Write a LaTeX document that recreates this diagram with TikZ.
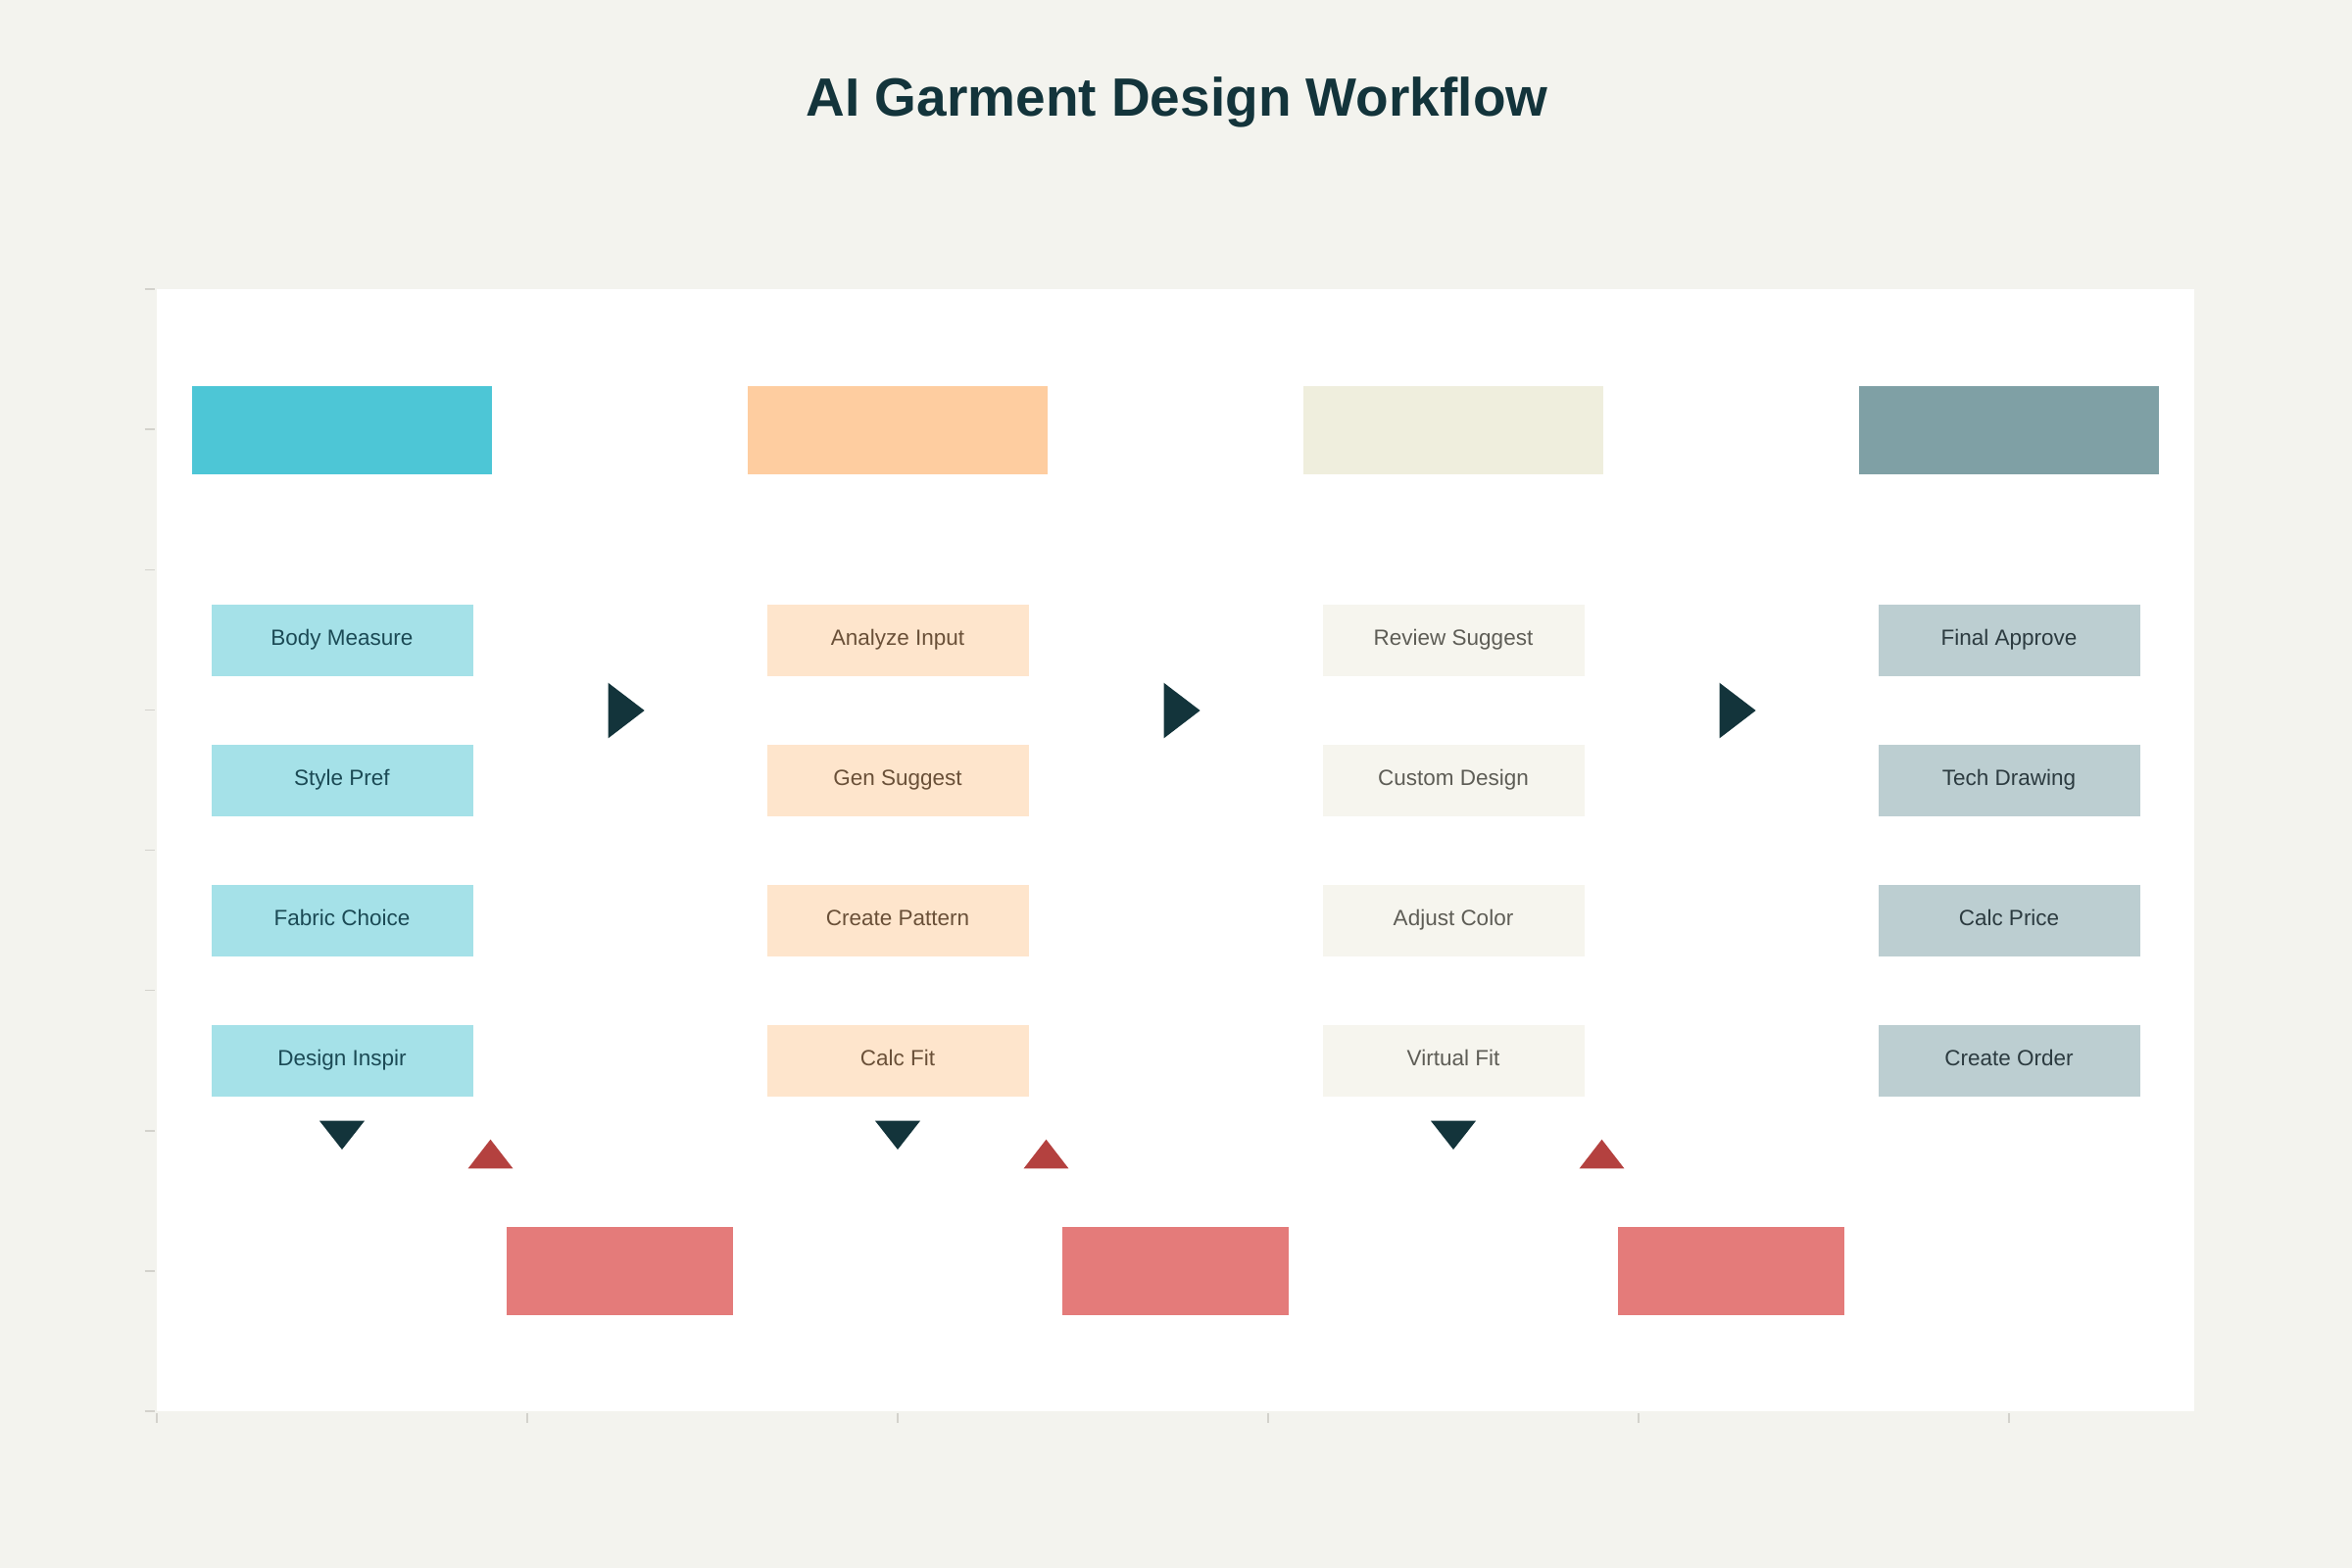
\documentclass[tikz,border=0pt]{standalone}
\usepackage{fontspec}
\setmainfont{Liberation Sans}
\definecolor{bg}{HTML}{F3F3EE}
\definecolor{dark}{HTML}{13343B}
\definecolor{tickc}{HTML}{D3D2CC}
\definecolor{hA}{HTML}{4DC6D6}
\definecolor{hB}{HTML}{FECDA0}
\definecolor{hC}{HTML}{EFEEDD}
\definecolor{hD}{HTML}{7FA0A5}
\definecolor{sA}{HTML}{A5E1E8}
\definecolor{sB}{HTML}{FEE5CC}
\definecolor{sC}{HTML}{F6F5EE}
\definecolor{sD}{HTML}{BCCED1}
\definecolor{tA}{HTML}{1B4A55}
\definecolor{tB}{HTML}{6A5038}
\definecolor{tC}{HTML}{5E5D56}
\definecolor{tD}{HTML}{2C3B40}
\definecolor{redbox}{HTML}{E47B7A}
\definecolor{redtri}{HTML}{B4413F}
\tikzset{
  header/.style={draw=none, minimum width=306pt, minimum height=90pt, inner sep=0pt},
  stepbox/.style={draw=none, minimum width=267pt, minimum height=73pt, inner sep=0pt,
    font=\fontsize{22.5}{26}\selectfont, text height=13pt, text depth=3pt},
  feedback/.style={fill=redbox, draw=none, minimum width=231pt, minimum height=90pt, inner sep=0pt},
  tickline/.style={draw=tickc, line width=1.5pt},
}
\begin{document}
\begin{tikzpicture}[x=1pt,y=-1pt]
\useasboundingbox (0,0) rectangle (2400,1600);
\fill[bg] (0,0) rectangle (2400,1600);
\fill[white] (160,295) rectangle (2239,1440);
% axis ticks
\foreach \k in {0,...,8} \draw[tickline] (147.5,{295+143.125*\k}) -- (157.5,{295+143.125*\k});
\foreach \k in {0,...,5} \draw[tickline] ({160+378*\k},1442) -- ({160+378*\k},1452);
% title
\node[font=\bfseries\fontsize{55}{60}\selectfont, text=dark, anchor=base, inner sep=0pt] (title) at (1201,118) {AI Garment Design Workflow};
% headers
\foreach \c/\col in {0/hA,1/hB,2/hC,3/hD}
  \node[header, fill=\col] (h\c) at ({349+567*\c},439) {};
% step boxes
\foreach \c/\fc/\tc/\names in {
  0/sA/tA/{Body Measure,Style Pref,Fabric Choice,Design Inspir},
  1/sB/tB/{Analyze Input,Gen Suggest,Create Pattern,Calc Fit},
  2/sC/tC/{Review Suggest,Custom Design,Adjust Color,Virtual Fit},
  3/sD/tD/{Final Approve,Tech Drawing,Calc Price,Create Order}}{
  \foreach \t [count=\j from 0] in \names
    \node[stepbox, fill=\fc, text=\tc] (s\c-\j) at ({349+567*\c},{653+143.125*\j}) {\t};
}
% feedback boxes
\foreach \c in {0,1,2}
  \node[feedback] (f\c) at ({632.6+567*\c},1297) {};
% right arrows
\foreach \c in {0,1,2}
  \fill[dark] ({620.5+567*\c},696.7) -- ({657.6+567*\c},725) -- ({620.5+567*\c},753.4) -- cycle;
% down markers
\foreach \c in {0,1,2}
  \fill[dark] ({326+567*\c},1143.7) -- ({372+567*\c},1143.7) -- ({349+567*\c},1173) -- cycle;
% red up markers
\foreach \c in {0,1,2}
  \fill[redtri] ({477.6+567*\c},1192.3) -- ({523.4+567*\c},1192.3) -- ({500.5+567*\c},1162.7) -- cycle;
\end{tikzpicture}
\end{document}
